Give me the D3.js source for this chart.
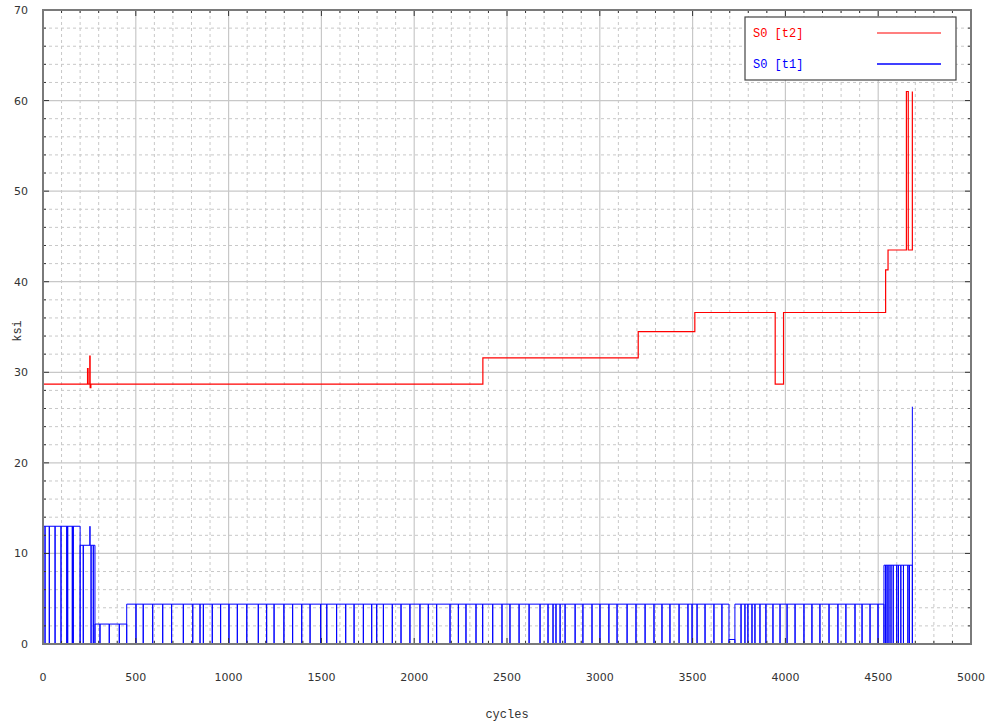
<!DOCTYPE html>
<html>
<head>
<meta charset="utf-8">
<script src="https://cdn.jsdelivr.net/npm/d3@7/dist/d3.min.js"></script>
<style>
  html, body { margin: 0; padding: 0; background: #fff; }
  svg { display: block; }
</style>
</head>
<body>
<svg id="chart" width="991" height="725"></svg>
<script>
// Axis ticks
const xTicks = [0, 500, 1000, 1500, 2000, 2500, 3000, 3500, 4000, 4500, 5000];
const yTicks = [0, 10, 20, 30, 40, 50, 60, 70];

// S0 [t2]: step trace, [cycle, ksi]; each value holds until the next cycle
const t2Cycles = [0, 240, 243, 252, 254, 258, 2370, 3207, 3512, 3945, 3990, 4540, 4553, 4652, 4662, 4684];
const t2Ksi    = [28.7, 30.4, 28.7, 31.8, 28.3, 28.7, 31.6, 34.5, 36.6, 28.7, 36.6, 41.3, 43.5, 61.0, 43.5, 61.0];

// S0 [t1]: load blocks (start cycle, end cycle, ksi level)
const t1BlockStart = [0, 200, 280, 451, 3696, 3728, 4531];
const t1BlockEnd   = [200, 280, 451, 3696, 3728, 4531, 4684];
const t1BlockKsi   = [13.0, 10.9, 2.2, 4.4, 0.5, 4.4, 8.7];

// S0 [t1]: cycles where the trace drops to zero and returns to the block level
const t1Drops = [
  11, 34, 65, 97, 128, 133, 158, 163,
  217, 259, 271,
  307, 357, 411,
  501, 540, 591, 645, 693, 756, 807, 846, 864, 912, 957, 1002, 1047, 1098, 1160,
  1205, 1245, 1298, 1345, 1394, 1439, 1496, 1529, 1582, 1631, 1676, 1726, 1771,
  1798, 1834, 1882, 1929, 1977, 2031, 2076, 2121, 2193, 2238, 2279, 2333, 2369,
  2423, 2473, 2516, 2565, 2619, 2678, 2721, 2748, 2764, 2786, 2813, 2867, 2909,
  2958, 3001, 3049, 3093, 3147, 3195, 3244, 3292, 3335, 3378, 3427, 3475, 3497,
  3524, 3567, 3615, 3658,
  3761, 3782, 3798, 3820, 3836, 3863, 3895, 3933, 3971, 4009, 4052, 4100, 4143,
  4186, 4235, 4283, 4326, 4375, 4413, 4456, 4499,
  4540, 4548, 4558, 4569, 4581, 4600, 4609, 4622, 4636, 4660, 4668
];
// S0 [t1]: short peak inside the 10.9 ksi block
const t1PeakCycle = 253;
const t1PeakKsi = 13.0;
// S0 [t1]: final reading
const t1FinalCycle = 4684;
const t1FinalKsi = 26.2;

const svg = d3.select("#chart");
const plotLeft = 43, plotRight = 971, plotTop = 10, plotBottom = 644;

const x = d3.scaleLinear().domain([0, 5000]).range([plotLeft, plotRight]);
const y = d3.scaleLinear().domain([0, 70]).range([plotBottom, plotTop]);

const gridColor = "#c8c8c8";

// Minor grid (dashed)
const xMinor = d3.range(100, 5000, 100).filter(v => v % 500 !== 0);
const yMinor = d3.range(2, 70, 2).filter(v => v % 10 !== 0);
const grid = svg.append("g");
grid.selectAll("line.xm").data(xMinor).join("line")
  .attr("x1", d => x(d)).attr("x2", d => x(d))
  .attr("y1", plotTop).attr("y2", plotBottom)
  .attr("stroke", gridColor).attr("stroke-width", 1).attr("stroke-dasharray", "3,3");
grid.selectAll("line.ym").data(yMinor).join("line")
  .attr("y1", d => y(d)).attr("y2", d => y(d))
  .attr("x1", plotLeft).attr("x2", plotRight)
  .attr("stroke", gridColor).attr("stroke-width", 1).attr("stroke-dasharray", "3,3");
// Major grid (solid)
grid.selectAll("line.xM").data(xTicks.slice(1, -1)).join("line")
  .attr("x1", d => x(d)).attr("x2", d => x(d))
  .attr("y1", plotTop).attr("y2", plotBottom)
  .attr("stroke", gridColor).attr("stroke-width", 1.2);
grid.selectAll("line.yM").data(yTicks.slice(1, -1)).join("line")
  .attr("y1", d => y(d)).attr("y2", d => y(d))
  .attr("x1", plotLeft).attr("x2", plotRight)
  .attr("stroke", gridColor).attr("stroke-width", 1.2);

// Build the t1 trace
const t1Points = [[0, 0]];
t1BlockStart.forEach((s, i) => {
  const e = t1BlockEnd[i], v = t1BlockKsi[i];
  t1Points.push([s, 0], [s, v]);
  const inner = t1Drops.filter(d => d > s && d < e);
  if (i === 1) inner.push(t1PeakCycle);
  inner.sort((a, b) => a - b).forEach(d => {
    if (d === t1PeakCycle && i === 1) {
      t1Points.push([d, v], [d, t1PeakKsi], [d, v]);
    } else {
      t1Points.push([d, v], [d, 0], [d, v]);
    }
  });
  t1Points.push([e, v], [e, 0]);
});
t1Points.push([t1FinalCycle, t1FinalKsi]);

const line = d3.line().x(d => x(d[0])).y(d => y(d[1]));

svg.append("path")
  .attr("d", line(t1Points))
  .attr("fill", "none")
  .attr("stroke", "#0000ff")
  .attr("stroke-width", 1);

// t2 step trace
const t2Points = t2Cycles.map((c, i) => [c, t2Ksi[i]]);
const stepLine = d3.line().x(d => x(d[0])).y(d => y(d[1])).curve(d3.curveStepAfter);
svg.append("path")
  .attr("d", stepLine(t2Points))
  .attr("fill", "none")
  .attr("stroke", "#ff0000")
  .attr("stroke-width", 1.2);

// Inner tick marks on all four sides
const ticks = svg.append("g").attr("stroke", "#333").attr("stroke-width", 1);
d3.range(0, 5001, 100).forEach(v => {
  const len = v % 500 === 0 ? 6 : 3;
  ticks.append("line").attr("x1", x(v)).attr("x2", x(v)).attr("y1", plotBottom).attr("y2", plotBottom - len);
  ticks.append("line").attr("x1", x(v)).attr("x2", x(v)).attr("y1", plotTop).attr("y2", plotTop + len);
});
d3.range(0, 71, 2).forEach(v => {
  const len = v % 10 === 0 ? 6 : 3;
  ticks.append("line").attr("y1", y(v)).attr("y2", y(v)).attr("x1", plotLeft).attr("x2", plotLeft + len);
  ticks.append("line").attr("y1", y(v)).attr("y2", y(v)).attr("x1", plotRight).attr("x2", plotRight - len);
});

// Frame
svg.append("rect")
  .attr("x", plotLeft).attr("y", plotTop)
  .attr("width", plotRight - plotLeft).attr("height", plotBottom - plotTop)
  .attr("fill", "none").attr("stroke", "#7a7a7a").attr("stroke-width", 2);

// Tick labels
const labelFont = "'DejaVu Sans', sans-serif";
svg.append("g").selectAll("text").data(xTicks).join("text")
  .attr("x", d => x(d)).attr("y", 681)
  .attr("text-anchor", "middle")
  .attr("font-family", labelFont).attr("font-size", 11).attr("fill", "#333")
  .text(d => d);
svg.append("g").selectAll("text").data(yTicks).join("text")
  .attr("x", 28).attr("y", d => y(d) + 4)
  .attr("text-anchor", "end")
  .attr("font-family", labelFont).attr("font-size", 11).attr("fill", "#333")
  .text(d => d);

// Axis titles
const monoFont = "'Liberation Mono', 'DejaVu Sans Mono', monospace";
svg.append("text")
  .attr("x", x(2500)).attr("y", 718)
  .attr("text-anchor", "middle")
  .attr("font-family", monoFont).attr("font-size", 12).attr("fill", "#333")
  .text("cycles");
svg.append("text")
  .attr("transform", "translate(21, 331) rotate(-90)")
  .attr("text-anchor", "middle")
  .attr("font-family", monoFont).attr("font-size", 12).attr("fill", "#333")
  .text("ksi");

// Legend
const legend = svg.append("g");
legend.append("rect")
  .attr("x", 745).attr("y", 17).attr("width", 211).attr("height", 63)
  .attr("fill", "#fff").attr("stroke", "#444").attr("stroke-width", 1.2);
const legendItems = [
  { label: "S0 [t2]", color: "#ff0000", yy: 33, w: 1.2 },
  { label: "S0 [t1]", color: "#0000ff", yy: 64, w: 1.5 }
];
legendItems.forEach(it => {
  legend.append("text")
    .attr("x", 753).attr("y", it.yy + 4)
    .attr("font-family", monoFont).attr("font-size", 12).attr("fill", it.color)
    .text(it.label);
  legend.append("line")
    .attr("x1", 877).attr("x2", 941).attr("y1", it.yy).attr("y2", it.yy)
    .attr("stroke", it.color).attr("stroke-width", it.w);
});
</script>
</body>
</html>
